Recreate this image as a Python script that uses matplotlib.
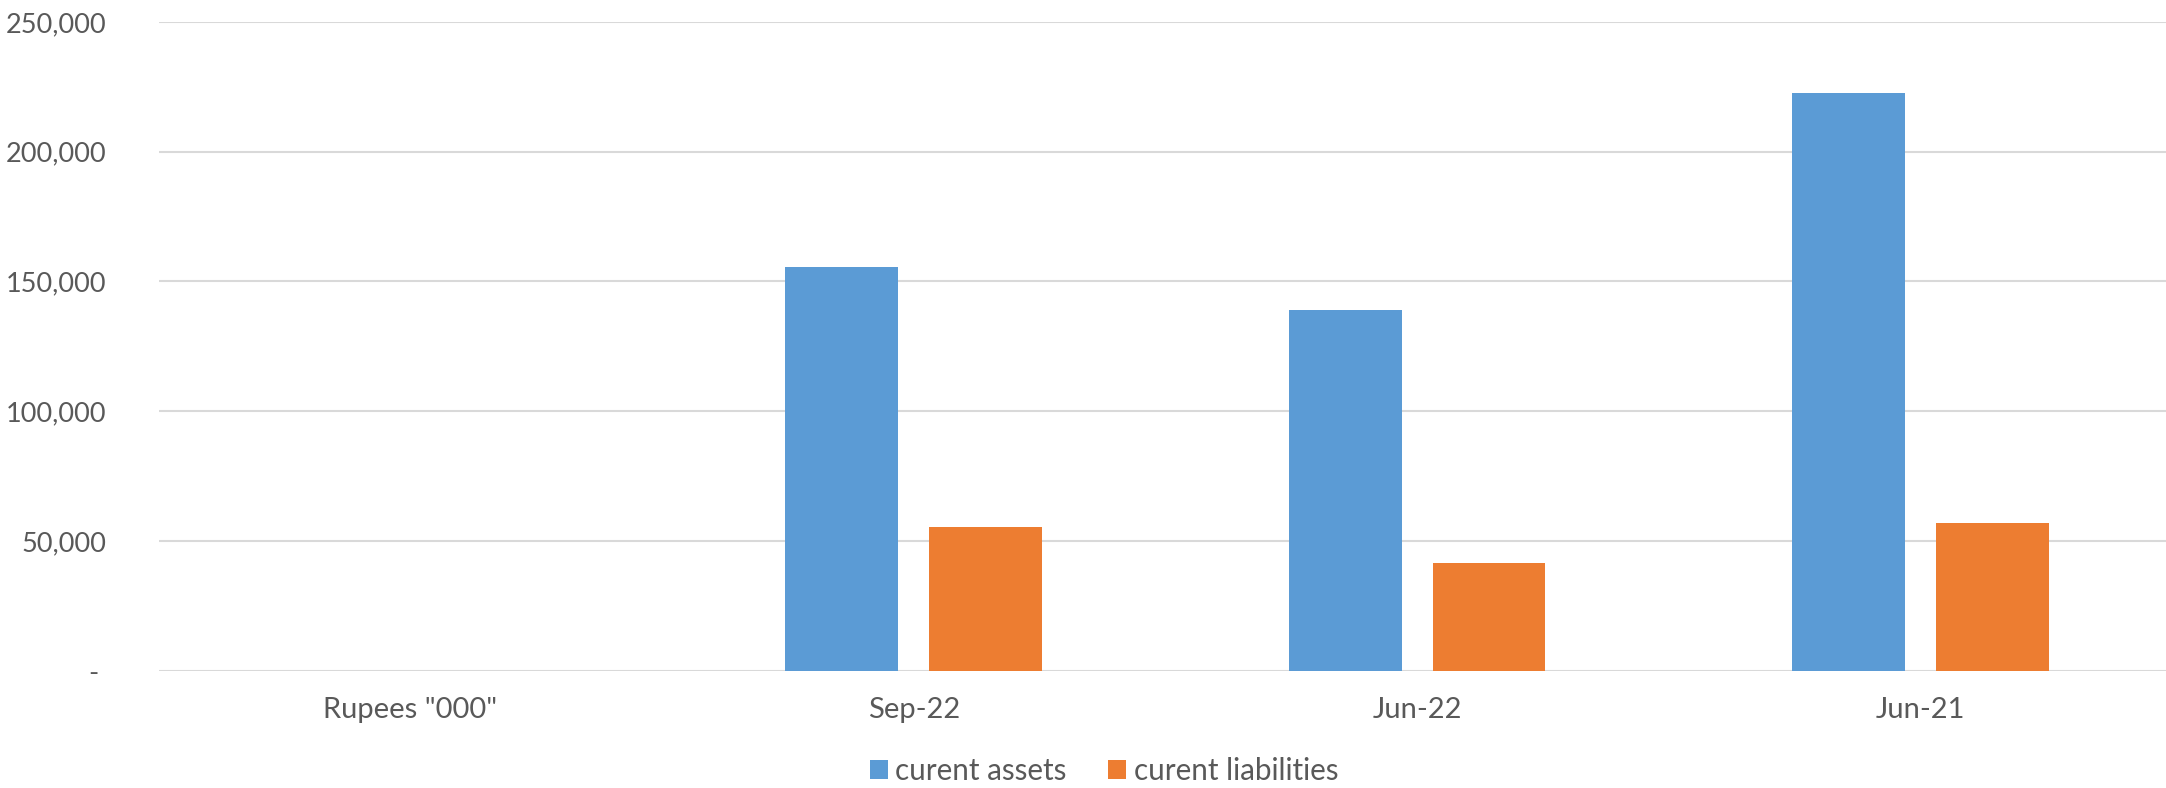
#!/usr/bin/env python3

import matplotlib
matplotlib.use("Agg")
import matplotlib.pyplot as plt
import matplotlib.ticker as ticker
import numpy as np

# values (Rupees '000)
categories = ['Rupees "000"', "Sep-22", "Jun-22", "Jun-21"]
current_assets = [0, 155500, 139000, 222600]
current_liabilities = [0, 55300, 41600, 57000]
series_labels = ["curent assets", "curent liabilities"]
y_ticks = [0, 50000, 100000, 150000, 200000, 250000]


def fmt(v, pos):
    if v == 0:
        return "- "
    return "{:,.0f}".format(v)


def draw():
    plt.rcParams["font.family"] = ["Lato", "DejaVu Sans"]
    plt.rcParams["font.size"] = 20
    txt_col = "#595959"

    fig = plt.figure(figsize=(21.66, 7.88), dpi=100)
    ax = fig.add_axes([158.7 / 2166, 1 - 670.7 / 788, 1 - 158.7 / 2166, (670.7 - 22) / 788])

    x = np.arange(len(categories))
    wdh = 0.224
    off = 0.1428
    ax.bar(x - off, current_assets, width=wdh, color="#5B9BD5", label=series_labels[0], zorder=3)
    ax.bar(x + off, current_liabilities, width=wdh, color="#ED7D31", label=series_labels[1], zorder=3)

    ax.set_xlim(-0.5, 3.488)
    ax.set_ylim(0, 250000)
    ax.set_yticks(y_ticks)
    ax.yaxis.set_major_formatter(ticker.FuncFormatter(fmt))
    ax.set_xticks(x)
    ax.set_xticklabels(categories)

    ax.grid(axis="y", color="#D9D9D9", linewidth=1.5, zorder=0)
    for s in ax.spines.values():
        s.set_visible(False)
    ax.tick_params(axis="both", length=0, colors=txt_col)
    ax.tick_params(axis="y", pad=38, labelsize=19.5)
    ax.tick_params(axis="x", pad=19, labelsize=21)

    leg = fig.legend(loc="center", bbox_to_anchor=(1103.8 / 2166, 1 - 771 / 788),
                     ncol=2, frameon=False, fontsize=21.3,
                     handlelength=0.61, handleheight=0.61,
                     handletextpad=0.26, columnspacing=1.39)
    for t in leg.get_texts():
        t.set_color(txt_col)

    fig.savefig("out.png", dpi=100)


if __name__ == "__main__":
    draw()
